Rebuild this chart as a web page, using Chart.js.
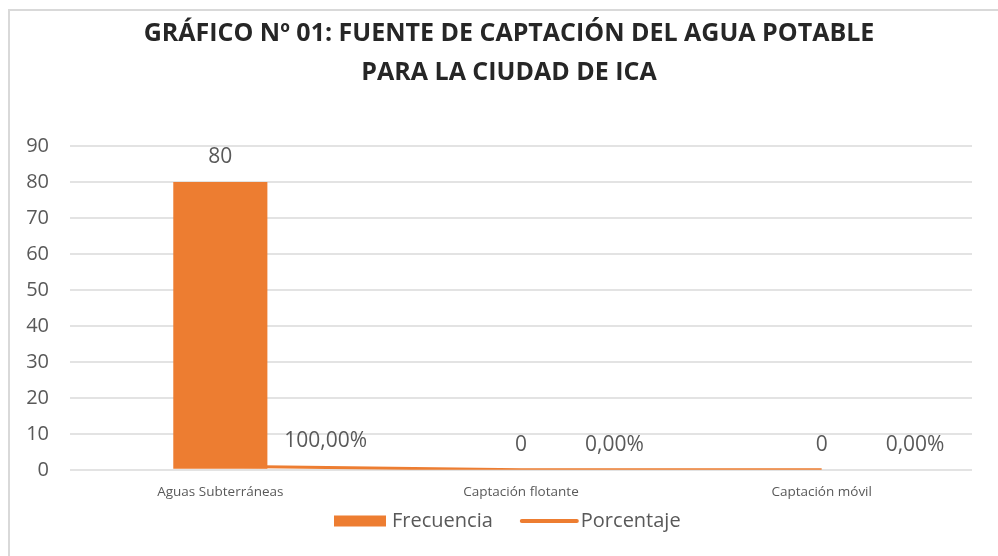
<!DOCTYPE html>
<html>
<head>
<meta charset="utf-8">
<script src="https://cdn.jsdelivr.net/npm/chart.js@4.4.1/dist/chart.umd.min.js"></script>
<style>
    html, body { margin: 0; padding: 0; background: #fff; }
    #wrap { position: relative; width: 998px; height: 556px; }
    #frame { position: absolute; left: 8px; top: 9px; width: 1000px; height: 560px; border: 2px solid #d9d9d9; box-sizing: border-box; }
    canvas { position: absolute; left: 0; top: 0; }
</style>
</head>
<body>
<div id="wrap">
    <div id="frame"></div>
    <canvas id="chart" width="998" height="556"></canvas>
</div>
<script>
// Chart data
const categories = ['Aguas Subterráneas', 'Captación flotante', 'Captación móvil'];
const frecuencia = [80, 0, 0];
const porcentaje = [1, 0, 0];           // 100% = 1
const porcentajeLabels = ['100,00%', '0,00%', '0,00%'];
const yTicks = [0, 10, 20, 30, 40, 50, 60, 70, 80, 90];
const titleLines = ['GRÁFICO Nº 01: FUENTE DE CAPTACIÓN DEL AGUA POTABLE', 'PARA LA CIUDAD DE ICA'];

const orange = '#ED7D31';
const textGray = '#595959';

// Title is drawn by hand so it can sit off-centre like the Excel original
const excelTitle = {
    id: 'excelTitle',
    afterDraw(chart) {
        const ctx = chart.ctx;
        ctx.save();
        ctx.fillStyle = '#262626';
        ctx.font = 'bold 25px "Open Sans", sans-serif';
        ctx.textAlign = 'center';
        ctx.textBaseline = 'middle';
        ctx.fillText(titleLines[0], 509, 34);
        ctx.fillText(titleLines[1], 509, 73);
        ctx.restore();
    }
};

// Value labels like Excel's data labels
const valueLabels = {
    id: 'valueLabels',
    afterDatasetsDraw(chart) {
        const ctx = chart.ctx;
        ctx.save();
        ctx.fillStyle = textGray;
        ctx.font = '21px "Open Sans", sans-serif';
        ctx.textBaseline = 'middle';

        chart.getDatasetMeta(0).data.forEach((bar, i) => {
            ctx.textAlign = 'center';
            ctx.fillText(String(frecuencia[i]), bar.x, bar.y - 25);
        });

        chart.getDatasetMeta(1).data.forEach((pt, i) => {
            ctx.textAlign = 'left';
            ctx.fillText(porcentajeLabels[i], pt.x + 64, pt.y - 25);
        });
        ctx.restore();
    }
};

// Legend drawn by hand (bar swatch + line swatch)
const excelLegend = {
    id: 'excelLegend',
    afterDraw(chart) {
        const ctx = chart.ctx;
        const y = 521;
        let x = 334;
        ctx.save();
        ctx.font = '20px "Open Sans", sans-serif';
        ctx.textBaseline = 'middle';
        ctx.textAlign = 'left';
        chart.data.datasets.forEach(ds => {
            ctx.fillStyle = ds.backgroundColor;
            ctx.strokeStyle = ds.borderColor || ds.backgroundColor;
            if (ds.type === 'bar') {
                ctx.fillRect(x, y - 5.5, 52, 11);
                x += 58;
            } else {
                ctx.lineWidth = 4;
                ctx.lineCap = 'round';
                ctx.beginPath();
                ctx.moveTo(x, y);
                ctx.lineTo(x + 55, y);
                ctx.stroke();
                x += 59;
            }
            ctx.fillStyle = textGray;
            ctx.fillText(ds.label, x, y);
            x += ctx.measureText(ds.label).width + 29;
        });
        ctx.restore();
    }
};

new Chart(document.getElementById('chart').getContext('2d'), {
    data: {
        labels: categories,
        datasets: [
            {
                type: 'bar',
                label: 'Frecuencia',
                data: frecuencia,
                backgroundColor: orange,
                borderWidth: 0,
                categoryPercentage: 1,
                barPercentage: 0.313,
                order: 1
            },
            {
                type: 'line',
                label: 'Porcentaje',
                data: porcentaje,
                borderColor: orange,
                backgroundColor: orange,
                borderWidth: 3,
                pointRadius: 0,
                tension: 0,
                order: 2
            }
        ]
    },
    options: {
        responsive: false,
        animation: false,
        layout: {
            padding: { left: 0, right: 26, top: 146, bottom: 50 }
        },
        plugins: {
            title: { display: false },
            legend: { display: false },
            tooltip: { enabled: false }
        },
        scales: {
            x: {
                grid: { display: false },
                border: { display: false },
                ticks: {
                    color: textGray,
                    font: { family: '"Open Sans", sans-serif', size: 13.5 },
                    padding: 6
                }
            },
            y: {
                min: 0,
                max: 90,
                afterBuildTicks(scale) {
                    scale.ticks = yTicks.map(v => ({ value: v }));
                },
                afterFit(scale) {
                    scale.width = 70;
                },
                grid: { color: '#e3e3e3', lineWidth: 2, drawTicks: false },
                border: { display: false },
                ticks: {
                    color: textGray,
                    font: { family: '"Open Sans", sans-serif', size: 20 },
                    padding: 21
                }
            }
        }
    },
    plugins: [valueLabels, excelTitle, excelLegend]
});
</script>
</body>
</html>
